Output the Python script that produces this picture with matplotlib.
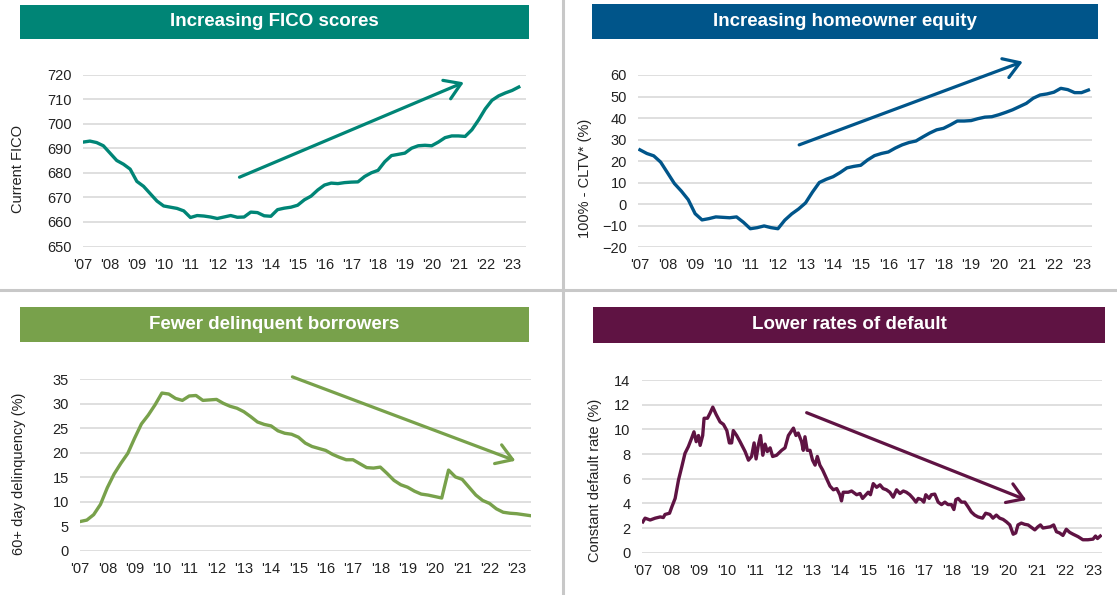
import numpy as np
import matplotlib
matplotlib.use("Agg")
import matplotlib.pyplot as plt
from matplotlib.patches import Rectangle
from matplotlib.lines import Line2D

plt.rcParams['font.family'] = ['Liberation Sans', 'DejaVu Sans']

# ---- data (quarterly from Q1 2007 unless noted) ----
fico = [692.5, 692.9, 692.3, 691.0, 688.0, 685.0, 683.5, 681.5, 676.5, 674.5,
        671.5, 668.5, 666.5, 666.0, 665.5, 664.5, 661.8, 662.6, 662.4, 662.0,
        661.4, 662.0, 662.6, 661.9, 662.0, 664.0, 663.8, 662.5, 662.3, 665.0,
        665.6, 666.0, 666.8, 669.0, 670.5, 673.0, 675.0, 675.8, 675.6, 676.0,
        676.2, 676.3, 678.5, 680.0, 681.0, 684.5, 687.0, 687.5, 688.0, 690.0,
        691.0, 691.2, 691.0, 692.5, 694.3, 695.0, 695.0, 694.8, 697.5, 701.5,
        706.0, 709.5, 711.3, 712.5, 713.5, 714.9]

equity = [25.2, 23.5, 22.4, 19.5, 14.5, 9.5, 6.0, 2.0, -4.5, -7.4,
          -6.8, -6.0, -6.2, -6.4, -6.0, -8.5, -11.5, -11.0, -10.2, -11.0,
          -11.5, -7.5, -4.6, -2.3, 0.5, 5.5, 10.0, 11.5, 12.7, 14.6,
          16.8, 17.5, 18.0, 20.5, 22.5, 23.5, 24.2, 26.0, 27.5, 28.6,
          29.3, 31.2, 33.0, 34.5, 35.2, 36.8, 38.6, 38.6, 38.8, 39.7,
          40.4, 40.6, 41.5, 42.6, 43.8, 45.3, 46.8, 49.2, 50.7, 51.2,
          52.0, 53.8, 53.2, 51.8, 51.8, 53.0]

delinq = [6.0, 6.3, 7.4, 9.5, 12.9, 15.7, 17.9, 19.9, 23.0, 25.9,
          27.7, 29.8, 32.2, 32.0, 31.1, 30.7, 31.6, 31.7, 30.7, 30.8,
          30.9, 30.1, 29.5, 29.1, 28.4, 27.4, 26.3, 25.8, 25.5, 24.5,
          24.0, 23.8, 23.2, 22.0, 21.3, 20.9, 20.5, 19.7, 19.1, 18.6,
          18.6, 17.8, 17.0, 16.9, 17.1, 15.8, 14.4, 13.5, 13.0, 12.2,
          11.6, 11.4, 11.1, 10.8, 16.5, 15.1, 14.6, 13.0, 11.4, 10.3,
          9.7, 8.6, 7.9, 7.7, 7.6, 7.4, 7.2]

# constant default rate: irregular sampling, years after Jan 2007
cdr_t = [0.00, 0.08, 0.26, 0.44, 0.62, 0.73, 0.79, 0.95, 1.03, 1.15,
         1.27, 1.39, 1.50, 1.62, 1.74, 1.82, 1.90, 1.98, 2.04, 2.13,
         2.18, 2.30, 2.39, 2.49, 2.61, 2.75, 2.87, 2.99, 3.08, 3.16,
         3.22, 3.34, 3.46, 3.64, 3.76, 3.87, 3.96, 4.03, 4.11, 4.19,
         4.27, 4.35, 4.43, 4.53, 4.62, 4.76, 4.94, 5.06, 5.18, 5.36,
         5.45, 5.53, 5.65, 5.71, 5.77, 5.85, 5.95, 6.04, 6.13, 6.21,
         6.30, 6.40, 6.54, 6.66, 6.78, 6.90, 7.01, 7.07, 7.13, 7.31,
         7.43, 7.61, 7.73, 7.82, 7.94, 8.02, 8.10, 8.20, 8.32, 8.44,
         8.55, 8.67, 8.79, 8.91, 9.03, 9.15, 9.27, 9.38, 9.50, 9.62,
         9.72, 9.80, 9.92, 10.00, 10.07, 10.19, 10.27, 10.39, 10.51, 10.63,
         10.75, 10.86, 10.98, 11.07, 11.14, 11.22, 11.34, 11.46, 11.58, 11.69,
         11.81, 11.93, 12.09, 12.20, 12.35, 12.46, 12.58, 12.70, 12.82, 12.94,
         13.06, 13.18, 13.27, 13.35, 13.47, 13.59, 13.71, 13.83, 13.95, 14.06,
         14.15, 14.24, 14.36, 14.50, 14.62, 14.72, 14.83, 14.95, 15.07, 15.19,
         15.31, 15.49, 15.66, 15.84, 16.02, 16.11, 16.18, 16.28]
cdr = [2.5, 2.8, 2.65, 2.8, 2.9, 2.85, 3.1, 3.2, 3.7, 4.4,
       5.9, 7.0, 8.05, 8.6, 9.3, 9.8, 9.0, 9.5, 8.7, 9.5,
       10.9, 10.9, 11.3, 11.8, 11.2, 10.6, 10.4, 9.9, 8.9, 8.9,
       9.9, 9.5, 9.0, 8.2, 7.5, 7.8, 8.9, 7.6, 8.7, 9.5,
       7.9, 8.8, 8.2, 8.5, 7.8, 7.9, 8.3, 8.5, 9.5, 10.1,
       9.5, 9.7, 9.0, 8.3, 9.4, 8.3, 8.3, 7.5, 7.1, 7.8,
       7.1, 6.7, 6.0, 5.4, 5.1, 5.2, 4.7, 4.2, 4.9, 4.9,
       5.0, 4.7, 4.8, 4.4, 4.7, 4.9, 4.7, 5.6, 5.3, 5.5,
       5.2, 5.1, 4.9, 4.5, 5.1, 4.8, 5.0, 4.9, 4.7, 4.4,
       4.1, 4.4, 4.3, 4.1, 4.7, 4.4, 4.7, 4.75, 4.1, 3.9,
       4.1, 3.9, 3.9, 3.5, 4.3, 4.4, 4.1, 4.1, 3.7, 3.3,
       3.05, 2.9, 2.8, 3.2, 3.1, 2.8, 3.05, 2.8, 2.7, 2.5,
       2.25, 1.5, 1.6, 2.25, 2.4, 2.3, 2.25, 2.05, 1.85, 2.1,
       2.25, 2.0, 2.05, 2.1, 2.25, 1.7, 1.6, 1.4, 1.9, 1.65,
       1.5, 1.3, 1.05, 1.05, 1.1, 1.35, 1.15, 1.35]

years = list(range(2007, 2024))
year_labels = ["'%02d" % (y % 100) for y in years]

titles = ["Increasing FICO scores", "Increasing homeowner equity",
          "Fewer delinquent borrowers", "Lower rates of default"]
ylabels = ["Current FICO", "100% - CLTV* (%)", "60+ day delinquency (%)",
           "Constant default rate (%)"]
colors = ["#008576", "#00558A", "#78A14B", "#5F1343"]

# trend arrows (start, end) in data coords
arrows = [((2012.83, 678.2), (2021.2, 716.8)),
          ((2012.77, 27.5), (2020.87, 66.2)),
          ((2014.78, 35.5), (2022.95, 18.4)),
          ((2012.83, 11.35), (2020.65, 4.27))]

W, H = 1117, 595


def px_rect(x0, y0, x1, y1):
    return [x0 / W, 1 - y1 / H, (x1 - x0) / W, (y1 - y0) / H]


fig = plt.figure(figsize=(W / 100, H / 100), dpi=100)

# axes rectangles in pixels (left, top, right, bottom)
ax_px = [(82.7, 74.5, 526, 246.5),
         (638, 75, 1092, 247),
         (80, 379.3, 531, 551),
         (641.7, 380, 1101.7, 552.7)]
xlims = [(2006.98, 2023.52), (2006.93, 2023.38), (2007.0, 2023.52), (2006.96, 2023.33)]
ylims = [(650, 720), (-20, 60), (0, 35), (0, 14)]
ysteps = [10, 10, 5, 2]
label_x = [-0.13, -0.101, -0.12, -0.086]
label_y = [0.45, 0.40, 0.45, 0.42]
boxes = [(20, 5, 529, 39), (592, 4, 1098, 39), (20, 307, 529, 342), (593, 307, 1105, 343)]

q_x = 2007 + 0.25 * np.arange(len(delinq))
series = [(q_x[:len(fico)], fico),
          (q_x[:len(equity)], equity),
          (q_x[:len(delinq)], delinq),
          (2007 + np.array(cdr_t), cdr)]

for i in range(4):
    l, t, r, b = ax_px[i]
    ax = fig.add_axes(px_rect(l, t, r, b))
    xs, ys = series[i]
    ax.plot(xs, ys, color=colors[i], lw=2.4, solid_joinstyle='round', zorder=3)
    ax.set_xlim(*xlims[i])
    ax.set_ylim(*ylims[i])
    ax.set_yticks(np.arange(ylims[i][0], ylims[i][1] + 0.1, ysteps[i]))
    ax.set_xticks(years)
    ax.set_xticklabels(year_labels)
    ax.grid(axis='y', color='#d9d9d9', lw=1.2)
    ax.set_axisbelow(True)
    for s in ax.spines.values():
        s.set_visible(False)
    ax.tick_params(axis='both', length=0, labelsize=10.5, colors='#222222')
    ax.tick_params(axis='x', pad=8)
    ax.tick_params(axis='y', pad=8)
    ax.set_ylabel(ylabels[i], fontsize=10.5, color='#222222')
    ax.yaxis.set_label_coords(label_x[i], label_y[i])

    (sx, sy), (ex, ey) = arrows[i]
    ax.annotate('', xy=(ex, ey), xytext=(sx, sy), annotation_clip=False,
                arrowprops=dict(arrowstyle='->,head_length=0.7,head_width=0.45',
                                color=colors[i], lw=2.3, mutation_scale=16,
                                shrinkA=0, shrinkB=0))

    x0, y0, x1, y1 = boxes[i]
    fig.patches.append(Rectangle((x0 / W, 1 - y1 / H), (x1 - x0) / W, (y1 - y0) / H,
                                 transform=fig.transFigure, facecolor=colors[i],
                                 edgecolor='none'))
    fig.text((x0 + x1) / 2 / W, 1 - (y0 + y1) / 2 / H, titles[i], color='white',
             fontsize=13.5, fontweight='bold', ha='center', va='center')

# panel separators
fig.add_artist(Line2D([0, 1], [1 - 290 / H, 1 - 290 / H], color='#c8c8c8', lw=2.2))
fig.add_artist(Line2D([563 / W, 563 / W], [0, 1], color='#c8c8c8', lw=2.2))

fig.savefig('out.png', dpi=100, facecolor='white')
